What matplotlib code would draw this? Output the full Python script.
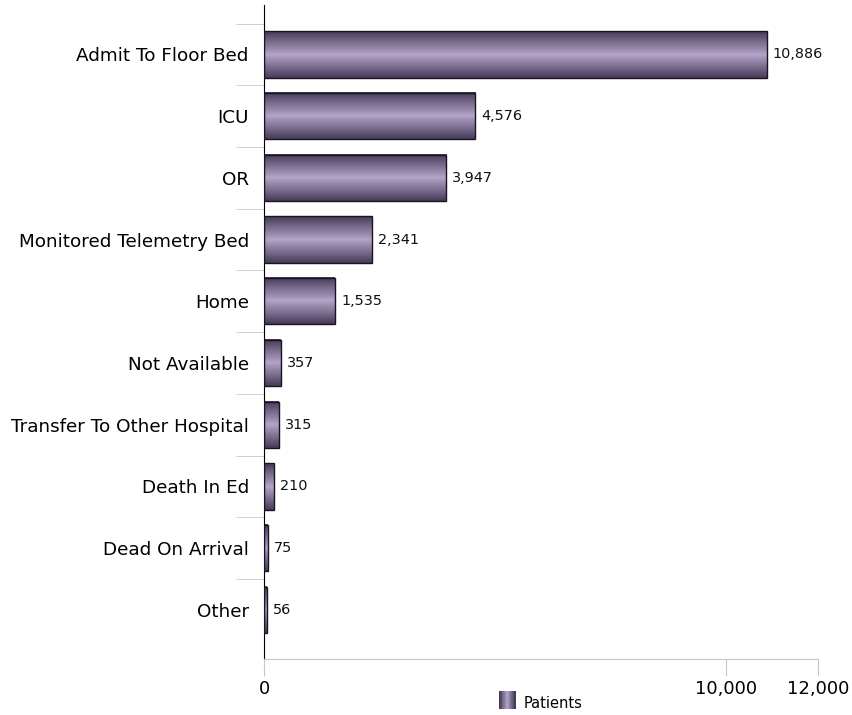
import matplotlib
matplotlib.use("Agg")
import matplotlib.pyplot as plt
import numpy as np
from matplotlib.colors import LinearSegmentedColormap
from matplotlib.patches import Rectangle
from matplotlib.legend_handler import HandlerBase

categories = ["Admit To Floor Bed", "ICU", "OR", "Monitored Telemetry Bed", "Home",
              "Not Available", "Transfer To Other Hospital", "Death In Ed",
              "Dead On Arrival", "Other"]
patients = [10886, 4576, 3947, 2341, 1535, 357, 315, 210, 75, 56]
xticks = [0, 10000, 12000]

dark = "#463a58"
light = "#b3a4c8"
cmap = LinearSegmentedColormap.from_list("bar", [dark, light, dark])
grad = np.linspace(0, 1, 256).reshape(-1, 1)


class GradHandler(HandlerBase):
    def create_artists(self, legend, orig, xd, yd, w, h, fontsize, trans):
        n = 20
        out = []
        for k in range(n):
            c = cmap(k / (n - 1))
            out.append(Rectangle((xd + w * k / n, yd - 4), w / n + 0.3, h,
                                 facecolor=c, edgecolor="none", transform=trans))
        return out


fig = plt.figure(figsize=(8.52, 7.15), dpi=100)
ax = fig.add_axes([0.31, 0.078, 0.65, 0.915])

h = 0.75
for i, v in enumerate(patients):
    ax.imshow(grad, cmap=cmap, aspect="auto", extent=(0, v, i + h / 2, i - h / 2),
              zorder=2, interpolation="bilinear")
    ax.add_patch(Rectangle((0, i - h / 2), v, h, facecolor="none",
                           edgecolor="#1a1420", linewidth=1, zorder=3))
    ax.text(v + 130, i, f"{v:,}", va="center", ha="left", fontsize=10.4, color="#111111")

ax.set_xlim(0, 12000)
ax.set_ylim(len(categories) - 0.2, -0.8)
ax.set_yticks(range(len(categories)))
ax.set_yticklabels(categories, fontsize=13.2)
ax.set_yticks(np.arange(-0.5, len(categories) - 0.5, 1), minor=True)
ax.tick_params(axis="y", which="major", length=0, pad=11)
ax.tick_params(axis="y", which="minor", length=20, color="#c8c8c8")
ax.set_xticks(xticks)
ax.set_xticklabels([f"{t:,}" for t in xticks], fontsize=13)
ax.tick_params(axis="x", length=12, color="#c8c8c8", pad=3)

for s in ["top", "right"]:
    ax.spines[s].set_visible(False)
ax.spines["left"].set_color("black")
ax.spines["bottom"].set_color("#c8c8c8")

fig.legend([Rectangle((0, 0), 1, 1)], ["Patients"], handler_map={Rectangle: GradHandler()},
           loc="center", bbox_to_anchor=(0.635, 1 - 703 / 715), frameon=False,
           handlelength=1.1, handleheight=1.5, fontsize=10.5, handletextpad=0.6,
           borderpad=0)

fig.savefig("out.png", dpi=100)
